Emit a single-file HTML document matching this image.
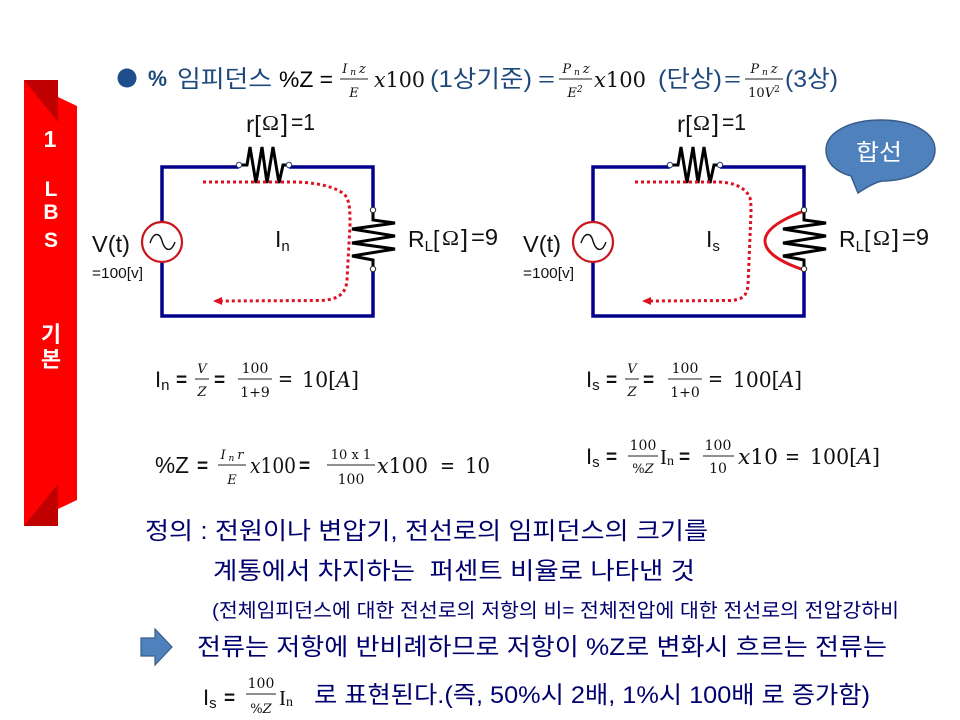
<!DOCTYPE html>
<html lang="ko"><head><meta charset="utf-8"><title>% 임피던스</title>
<style>
html,body{margin:0;padding:0;background:#fff}
svg{display:block}
text{white-space:pre}
.s{font-family:"Liberation Sans","Noto Sans CJK KR",sans-serif}
.k{font-family:"Liberation Sans","Noto Sans CJK KR",sans-serif;fill:#00006e}
.b{font-family:"Liberation Sans","Noto Sans CJK KR",sans-serif;fill:#1f497d}
.m{font-family:"DejaVu Serif",serif;fill:#111}
.o{font-family:"Liberation Serif",serif;fill:#111}
.i{font-style:italic}
.f{font-size:13px;text-anchor:middle}
.w{font-family:"Liberation Sans","Noto Sans CJK KR",sans-serif;fill:#fff;font-weight:bold;text-anchor:middle}
</style></head><body>
<svg width="960" height="720" viewBox="0 0 960 720" xmlns="http://www.w3.org/2000/svg">
<!-- ribbon -->
<polygon points="24,80 58,80 58,97 77,106 77,500 58,509 58,526 24,526" fill="#ff0000"/>
<polygon points="24,80 58,80 58,122" fill="#c00000"/>
<polygon points="24,526 58,526 58,484" fill="#c00000"/>
<text class="w" x="50" y="147" font-size="23">1</text>
<text class="w" x="51" y="196" font-size="21">L</text>
<text class="w" x="51" y="219" font-size="21">B</text>
<text class="w" x="51" y="247" font-size="21">S</text>
<text class="w" x="51" y="342" font-size="22">기</text>
<text class="w" x="51" y="367" font-size="22">본</text>

<!-- title -->
<circle cx="127" cy="78" r="9.5" fill="#1f4e8c"/>
<text class="b" x="148" y="86" font-size="22" font-weight="bold" textLength="19" lengthAdjust="spacingAndGlyphs">%</text>
<text class="b" x="177" y="87" font-size="24" textLength="95" lengthAdjust="spacingAndGlyphs">임피던스</text>
<text class="s" x="279" y="87" font-size="22" fill="#000" textLength="54" lengthAdjust="spacingAndGlyphs">%Z =</text>
<text class="m i f" x="354" y="73">I<tspan font-size="9" dy="2"> n </tspan><tspan dy="-2">z</tspan></text>
<line x1="340" y1="79" x2="368" y2="79" stroke="#222" stroke-width="1"/>
<text class="m i f" x="354" y="97">E</text>
<text class="m" x="374" y="87" font-size="21" textLength="51" lengthAdjust="spacingAndGlyphs"><tspan class="i">x</tspan>100</text>
<text class="b" x="430" y="87" font-size="24" textLength="102" lengthAdjust="spacingAndGlyphs">(1상기준)</text>
<text class="b" x="538" y="86" font-size="20" textLength="17" lengthAdjust="spacingAndGlyphs">=</text>
<text class="m i f" x="576" y="73">P<tspan font-size="9" dy="2"> n </tspan><tspan dy="-2">z</tspan></text>
<line x1="559" y1="79" x2="592" y2="79" stroke="#222" stroke-width="1"/>
<text class="m i f" x="575" y="97">E<tspan font-size="9" dy="-5">2</tspan></text>
<text class="m" x="594" y="87" font-size="21" textLength="52" lengthAdjust="spacingAndGlyphs"><tspan class="i">x</tspan>100</text>
<text class="b" x="658" y="87" font-size="24" textLength="64" lengthAdjust="spacingAndGlyphs">(단상)</text>
<text class="b" x="724" y="86" font-size="20" textLength="17" lengthAdjust="spacingAndGlyphs">=</text>
<text class="m i f" x="764" y="73">P<tspan font-size="9" dy="2"> n </tspan><tspan dy="-2">z</tspan></text>
<line x1="745" y1="79" x2="783" y2="79" stroke="#222" stroke-width="1"/>
<text class="m f" x="764" y="97">10<tspan class="i">V</tspan><tspan font-size="9" dy="-5">2</tspan></text>
<text class="b" x="785" y="87" font-size="24" textLength="53" lengthAdjust="spacingAndGlyphs">(3상)</text>

<!-- LEFT circuit -->
<g>
<rect x="162" y="167" width="211" height="149" fill="none" stroke="#00008b" stroke-width="3.5"/>
<line x1="239" y1="167" x2="289" y2="167" stroke="#fff" stroke-width="5"/>
<line x1="373" y1="210" x2="373" y2="269" stroke="#fff" stroke-width="5"/>
<polyline points="239,165 247,165 250,147 256,183 262,147 267,183 273,147 279,183 283,165 289,165" fill="none" stroke="#000" stroke-width="3"/>
<polyline points="373,212 373,220 395,223 352,229 395,236 352,243 395,249 352,256 373,260 373,267" fill="none" stroke="#000" stroke-width="3"/>
<circle cx="239" cy="165" r="2.7" fill="#fff" stroke="#1f3a6e"/>
<circle cx="289" cy="165" r="2.7" fill="#fff" stroke="#1f3a6e"/>
<circle cx="373" cy="210" r="2.7" fill="#fff" stroke="#222"/>
<circle cx="373" cy="269" r="2.7" fill="#fff" stroke="#222"/>
<circle cx="162" cy="242" r="20" fill="#fff" stroke="#c8161d" stroke-width="2.2"/>
<path d="M150,243 C154,231 160,233 162,241 C165,251 171,253 175,242" fill="none" stroke="#111" stroke-width="1.4"/>
<path d="M203,182 L297,182 C325,183 343,190 347,198 C350,205 350,213 350,225 L347,280 C346,296 335,300 320,300.5 L222,301" fill="none" stroke="#dd1122" stroke-width="3" stroke-dasharray="3 3"/>
<polygon points="213,301 222,297 222,305" fill="#dd1122"/>
</g>

<!-- RIGHT circuit -->
<g>
<rect x="593" y="167" width="211" height="149" fill="none" stroke="#00008b" stroke-width="3.5"/>
<line x1="670" y1="167" x2="720" y2="167" stroke="#fff" stroke-width="5"/>
<line x1="804" y1="210" x2="804" y2="269" stroke="#fff" stroke-width="5"/>
<polyline points="670,165 678,165 681,147 687,183 693,147 698,183 704,147 710,183 714,165 720,165" fill="none" stroke="#000" stroke-width="3"/>
<polyline points="804,212 804,220 826,223 783,229 826,236 783,243 826,249 783,256 804,260 804,267" fill="none" stroke="#000" stroke-width="3"/>
<path d="M804,211 C780,220 765,230 765,241 C765,252 780,262 804,270" fill="none" stroke="#e0141e" stroke-width="3"/>
<circle cx="670" cy="165" r="2.7" fill="#fff" stroke="#1f3a6e"/>
<circle cx="720" cy="165" r="2.7" fill="#fff" stroke="#1f3a6e"/>
<circle cx="804" cy="210" r="2.7" fill="#fff" stroke="#222"/>
<circle cx="804" cy="269" r="2.7" fill="#fff" stroke="#222"/>
<circle cx="593" cy="242" r="20" fill="#fff" stroke="#c8161d" stroke-width="2.2"/>
<path d="M581,243 C585,231 591,233 593,241 C596,251 602,253 606,242" fill="none" stroke="#111" stroke-width="1.4"/>
<path d="M635,182 L720,182 C738,183 747,190 750,198 C751,203 751,207 751,213 L748,285 C747,296 742,300 730,300.5 L651,301" fill="none" stroke="#dd1122" stroke-width="3" stroke-dasharray="3 3"/>
<polygon points="642,301 651,297 651,305" fill="#dd1122"/>
</g>

<!-- bubble -->
<path d="M851,176 C830,170 826,158 826,150 C826,132 850,120 881,120 C912,120 935,132 935,150 C935,168 912,180 884,181 C878,181 870,185 858,193 Z" fill="#4f81bd" stroke="#385d8a" stroke-width="1.5"/>
<text class="s" x="856" y="160" font-size="23" fill="#fff" textLength="46" lengthAdjust="spacingAndGlyphs">합선</text>

<!-- circuit labels left -->
<text class="s" x="246" y="132" font-size="23" fill="#111" textLength="15" lengthAdjust="spacingAndGlyphs">r[</text>
<text class="o" x="262" y="130" font-size="21" textLength="17" lengthAdjust="spacingAndGlyphs">Ω</text>
<text class="s" x="281" y="132" font-size="25" fill="#111" textLength="7" lengthAdjust="spacingAndGlyphs">]</text>
<text class="s" x="291" y="130" font-size="23" fill="#111" textLength="24" lengthAdjust="spacingAndGlyphs">=1</text>
<text class="s" x="92" y="252" font-size="23" fill="#111" textLength="38" lengthAdjust="spacingAndGlyphs">V(t)</text>
<text class="s" x="92" y="278" font-size="14.5" fill="#111" textLength="51" lengthAdjust="spacingAndGlyphs">=100[v]</text>
<text class="s" x="275" y="247" font-size="23" fill="#111">I<tspan font-size="15" dy="4">n</tspan></text>
<text class="s" x="408" y="247" font-size="23" fill="#111">R<tspan font-size="15" dy="4">L</tspan><tspan dy="-4">[</tspan></text>
<text class="o" x="442" y="245" font-size="21" textLength="17" lengthAdjust="spacingAndGlyphs">Ω</text>
<text class="s" x="461" y="247" font-size="25" fill="#111" textLength="7" lengthAdjust="spacingAndGlyphs">]</text>
<text class="s" x="471" y="245" font-size="23" fill="#111" textLength="27" lengthAdjust="spacingAndGlyphs">=9</text>

<!-- circuit labels right -->
<text class="s" x="677" y="132" font-size="23" fill="#111" textLength="15" lengthAdjust="spacingAndGlyphs">r[</text>
<text class="o" x="693" y="130" font-size="21" textLength="17" lengthAdjust="spacingAndGlyphs">Ω</text>
<text class="s" x="712" y="132" font-size="25" fill="#111" textLength="7" lengthAdjust="spacingAndGlyphs">]</text>
<text class="s" x="722" y="130" font-size="23" fill="#111" textLength="24" lengthAdjust="spacingAndGlyphs">=1</text>
<text class="s" x="523" y="252" font-size="23" fill="#111" textLength="38" lengthAdjust="spacingAndGlyphs">V(t)</text>
<text class="s" x="523" y="278" font-size="14.5" fill="#111" textLength="51" lengthAdjust="spacingAndGlyphs">=100[v]</text>
<text class="s" x="706" y="247" font-size="23" fill="#111">I<tspan font-size="15" dy="4">s</tspan></text>
<text class="s" x="839" y="247" font-size="23" fill="#111">R<tspan font-size="15" dy="4">L</tspan><tspan dy="-4">[</tspan></text>
<text class="o" x="873" y="245" font-size="21" textLength="17" lengthAdjust="spacingAndGlyphs">Ω</text>
<text class="s" x="892" y="247" font-size="25" fill="#111" textLength="7" lengthAdjust="spacingAndGlyphs">]</text>
<text class="s" x="902" y="245" font-size="23" fill="#111" textLength="27" lengthAdjust="spacingAndGlyphs">=9</text>

<!-- equations left -->
<text class="s" x="155" y="387" font-size="22" fill="#111">I<tspan font-size="15" dy="3">n</tspan></text>
<text class="s" font-weight="bold" x="176" y="386" font-size="19" fill="#111">=</text>
<text class="m i f" x="202" y="373">V</text><line x1="195" y1="379" x2="209" y2="379" stroke="#222"/><text class="m i f" x="202" y="396">Z</text>
<text class="s" font-weight="bold" x="214" y="386" font-size="19" fill="#111">=</text>
<text class="m f" x="255" y="373" style="font-size:14px">100</text><line x1="238" y1="379" x2="272" y2="379" stroke="#222"/><text class="m f" x="255" y="397" style="font-size:14px">1+9</text>
<text class="m" x="278" y="386" font-size="21" textLength="15" lengthAdjust="spacingAndGlyphs">=</text>
<text class="m" x="302" y="387" font-size="21" textLength="57" lengthAdjust="spacingAndGlyphs">10[<tspan class="i">A</tspan>]</text>

<text class="s" x="155" y="473" font-size="23" fill="#111" textLength="34" lengthAdjust="spacingAndGlyphs">%Z</text>
<text class="s" font-weight="bold" x="197" y="472" font-size="19" fill="#111">=</text>
<text class="m i f" x="232" y="459">I<tspan font-size="9" dy="2"> n </tspan><tspan dy="-2">r</tspan></text><line x1="218" y1="465" x2="246" y2="465" stroke="#222"/><text class="m i f" x="232" y="484">E</text>
<text class="m" x="250" y="473" font-size="21" textLength="46" lengthAdjust="spacingAndGlyphs"><tspan class="i">x</tspan>100</text>
<text class="s" font-weight="bold" x="299" y="472" font-size="19" fill="#111">=</text>
<text class="m f" x="351" y="459">10 x 1</text><line x1="327" y1="465" x2="375" y2="465" stroke="#222"/><text class="m f" x="351" y="484" style="font-size:14px">100</text>
<text class="m" x="377" y="473" font-size="21" textLength="51" lengthAdjust="spacingAndGlyphs"><tspan class="i">x</tspan>100</text>
<text class="m" x="440" y="473" font-size="21" textLength="15" lengthAdjust="spacingAndGlyphs">=</text>
<text class="m" x="465" y="473" font-size="21" textLength="25" lengthAdjust="spacingAndGlyphs">10</text>

<!-- equations right -->
<text class="s" x="586" y="387" font-size="22" fill="#111">I<tspan font-size="15" dy="3">s</tspan></text>
<text class="s" font-weight="bold" x="606" y="386" font-size="19" fill="#111">=</text>
<text class="m i f" x="632" y="373">V</text><line x1="625" y1="379" x2="639" y2="379" stroke="#222"/><text class="m i f" x="632" y="396">Z</text>
<text class="s" font-weight="bold" x="643" y="386" font-size="19" fill="#111">=</text>
<text class="m f" x="685" y="373" style="font-size:14px">100</text><line x1="668" y1="379" x2="702" y2="379" stroke="#222"/><text class="m f" x="685" y="397" style="font-size:14px">1+0</text>
<text class="m" x="708" y="386" font-size="21" textLength="15" lengthAdjust="spacingAndGlyphs">=</text>
<text class="m" x="733" y="387" font-size="21" textLength="69" lengthAdjust="spacingAndGlyphs">100[<tspan class="i">A</tspan>]</text>

<text class="s" x="586" y="464" font-size="22" fill="#111">I<tspan font-size="15" dy="3">s</tspan></text>
<text class="s" font-weight="bold" x="606" y="463" font-size="19" fill="#111">=</text>
<text class="m f" x="643" y="450" style="font-size:14px">100</text><line x1="628" y1="456" x2="658" y2="456" stroke="#222"/><text class="m f" x="643" y="473">%<tspan class="i">Z</tspan></text>
<text class="o" x="660" y="464" font-size="21">I<tspan font-size="14" dy="1">n</tspan></text>
<text class="s" font-weight="bold" x="679" y="463" font-size="19" fill="#111">=</text>
<text class="m f" x="718" y="450" style="font-size:14px">100</text><line x1="703" y1="456" x2="734" y2="456" stroke="#222"/><text class="m f" x="718" y="473" style="font-size:14px">10</text>
<text class="m" x="738" y="464" font-size="21" textLength="40" lengthAdjust="spacingAndGlyphs"><tspan class="i">x</tspan>10</text>
<text class="m" x="785" y="464" font-size="21" textLength="15" lengthAdjust="spacingAndGlyphs">=</text>
<text class="m" x="810" y="464" font-size="21" textLength="70" lengthAdjust="spacingAndGlyphs">100[<tspan class="i">A</tspan>]</text>

<!-- body text -->
<text class="k" x="145" y="539" font-size="24" textLength="563" lengthAdjust="spacingAndGlyphs">정의 : 전원이나 변압기, 전선로의 임피던스의 크기를</text>
<text class="k" x="213" y="579" font-size="24" textLength="482" lengthAdjust="spacingAndGlyphs">계통에서 차지하는  퍼센트 비율로 나타낸 것</text>
<text class="k" x="212" y="617" font-size="19.5" textLength="687" lengthAdjust="spacingAndGlyphs">(전체임피던스에 대한 전선로의 저항의 비= 전체전압에 대한 전선로의 전압강하비</text>
<polygon points="141,638 155,638 155,629 172,647 155,665 155,656 141,656" fill="#4f81bd" stroke="#385d8a" stroke-width="1.2"/>
<text class="k" x="197" y="655" font-size="24" textLength="690" lengthAdjust="spacingAndGlyphs">전류는 저항에 반비례하므로 저항이 %Z로 변화시 흐르는 전류는</text>
<text class="s" x="203" y="705" font-size="22" fill="#111">I<tspan font-size="15" dy="3">s</tspan></text>
<text class="s" font-weight="bold" x="224" y="704" font-size="19" fill="#111">=</text>
<text class="m f" x="261" y="688" style="font-size:14px">100</text><line x1="246" y1="694" x2="276" y2="694" stroke="#222"/><text class="m f" x="261" y="713">%<tspan class="i">Z</tspan></text>
<text class="o" x="279" y="705" font-size="21">I<tspan font-size="14" dy="1">n</tspan></text>
<text class="k" x="314" y="703" font-size="24" textLength="556" lengthAdjust="spacingAndGlyphs">로 표현된다.(즉, 50%시 2배, 1%시 100배 로 증가함)</text>
</svg>
</body></html>
